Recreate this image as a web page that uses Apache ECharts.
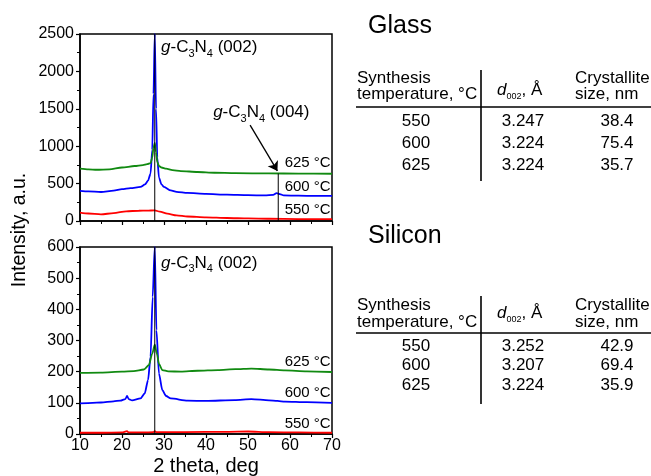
<!DOCTYPE html>
<html><head><meta charset="utf-8">
<script src="https://cdn.jsdelivr.net/npm/echarts@6/dist/echarts.min.js"></script>
<style>html,body{margin:0;padding:0;background:#fff}#c{width:651px;height:476px}</style>
</head><body><div id="c"></div>
<script>
// ---- data ----
var xTicks = [10, 20, 30, 40, 50, 60, 70];
var tempLabels = ['625 °C', '600 °C', '550 °C'];
var glass625 = [[10,700],[12,690],[14,685],[17,690],[20,715],[23,735],[25,748],[26,760],[26.8,775],[27.2,850],[27.5,980],[27.8,1045],[28.1,920],[28.4,790],[28.8,735],[29.4,715],[30.5,700],[32,680],[34,668],[38,655],[42,645],[47,640],[55,636],[62,634],[70,632]];
var glass600 = [[10,402],[12,395],[15,388],[18,405],[20,425],[22,440],[24.4,455],[25.5,490],[26.2,540],[26.8,634],[27.2,950],[27.5,1700],[27.8,2500],[28.1,1500],[28.4,850],[28.8,580],[29.4,490],[30,455],[31.6,410],[33,390],[35.6,375],[40,362],[45,352],[50,345],[54,342],[56,350],[56.8,372],[57.6,360],[58.5,342],[62,338],[66,336],[70,335]];
var glass550 = [[10,112],[12,100],[15,89],[18,105],[21,130],[24,137],[26,138],[27.8,143],[29,125],[30.8,98],[33,75],[35.6,60],[40,48],[45,40],[50,34],[55,30],[62,26],[70,24]];
var si625 = [[10,196],[15,197],[20,200],[22.8,202],[25.2,207],[26.4,221],[27.2,258],[27.8,287],[28.3,258],[28.8,225],[29.6,205],[31,201],[34,200],[38,203],[42.8,205],[47,208],[50.8,210],[55,207],[58.8,204],[64,201],[70,199]];
var si600 = [[10,98],[13,100],[15,101],[18,105],[19.6,107],[20.8,112],[21.2,122],[21.6,112],[22.4,108],[24.4,114],[25.4,130],[26.2,173],[26.8,248],[27.3,440],[27.8,600],[28.2,333],[28.8,194],[29.6,141],[30.5,122],[31.6,114],[35.6,107],[40,106],[46.8,109],[50.8,112],[55,108],[57,106],[58.8,104],[64,102],[70,100]];
var si550 = [[10,4],[15,4],[20,5],[21.2,9],[21.6,5],[25,5],[27.5,6],[27.8,9],[28.2,6],[35,6],[45,7],[50,8],[55,6],[62,5],[70,4]];
var peak002 = 27.8, peak004 = 57.2;
var glassTable = [['550','3.247','38.4'],['600','3.224','75.4'],['625','3.224','35.7']];
var siliconTable = [['550','3.252','42.9'],['600','3.207','69.4'],['625','3.224','35.9']];

var FONT = 'Liberation Sans, Arial, sans-serif';
var GREEN = '#118a11', BLUE = '#0000ff', RED = '#ff0000';

function xAx(idx, showLabels) {
  return {
    type: 'value', gridIndex: idx, min: 10, max: 70, interval: 10,
    axisLine: {show: true, lineStyle: {color: '#000', width: 1.5}},
    axisTick: {show: true, inside: false, length: 4, lineStyle: {color: '#000', width: 1.2}},
    minorTick: {show: true, splitNumber: 2, length: 3, lineStyle: {color: '#000', width: 1}},
    splitLine: {show: false},
    axisLabel: {show: showLabels, color: '#000', fontSize: 16, fontFamily: FONT, margin: 4,
      formatter: function (v) { return String(v); }},
    name: showLabels ? '2 theta, deg' : '', nameLocation: 'middle', nameGap: 22,
    nameTextStyle: {color: '#000', fontSize: 20, fontFamily: FONT}
  };
}
function yAx(idx, max, interval) {
  return {
    type: 'value', gridIndex: idx, min: 0, max: max, interval: interval,
    axisLine: {show: true, lineStyle: {color: '#000', width: 1.5}},
    axisTick: {show: true, length: 4, lineStyle: {color: '#000', width: 1.2}},
    minorTick: {show: true, splitNumber: 2, length: 3, lineStyle: {color: '#000', width: 1}},
    splitLine: {show: false},
    axisLabel: {color: '#000', fontSize: 16, fontFamily: FONT, margin: 6,
      formatter: function (v) { return String(v); }}
  };
}
function curve(data, color, gi) {
  return {type: 'line', xAxisIndex: gi, yAxisIndex: gi, data: data, showSymbol: false, symbol: 'none',
    smooth: 0.25, smoothMonotone: 'x', lineStyle: {color: color, width: 1.8}, z: 3, silent: true};
}
function vline(x, y1, gi) {
  return {type: 'line', xAxisIndex: gi, yAxisIndex: gi, data: [[x, 0], [x, y1]], symbol: 'none',
    lineStyle: {color: '#000', width: 1}, z: 4, silent: true};
}
var richSub = {
  n: {fontSize: 17, fontFamily: FONT, color: '#000', lineHeight: 24, textBorderWidth: 0, opacity: 1},
  i: {fontStyle: 'italic', fontSize: 17, fontFamily: FONT, color: '#000', lineHeight: 24, textBorderWidth: 0, opacity: 1},
  s: {fontSize: 11, fontFamily: FONT, color: '#000', lineHeight: 12, verticalAlign: 'bottom', textBorderWidth: 0, opacity: 1}
};
function textMark(gi, pts, formatter, align) {
  return {type: 'scatter', xAxisIndex: gi, yAxisIndex: gi, symbolSize: 0, silent: true, z: 5,
    itemStyle: {opacity: 1},
    data: pts.map(function (p) { return {value: p, name: formatter}; }),
    label: {show: true, position: 'inside', align: align || 'center', verticalAlign: 'middle', opacity: 1,
      color: '#000', textBorderWidth: 0, fontSize: 17, fontFamily: FONT, lineHeight: 24,
      formatter: function (p) { return p.name; }, rich: richSub}};
}
function tempLabelSeries(gi, ys) {
  return {type: 'scatter', xAxisIndex: gi, yAxisIndex: gi, symbolSize: 0, silent: true, z: 5,
    itemStyle: {opacity: 1},
    data: ys.map(function (y, k) { return {value: [64.2, y], name: tempLabels[k]}; }),
    label: {show: true, position: 'inside', color: '#000', opacity: 1, textBorderWidth: 0, fontSize: 15, fontFamily: FONT,
      formatter: function (p) { return p.name; }}};
}

// ---- table graphics ----
function tableGraphics(title, rows, top) {
  var els = [];
  var ts = {fill: '#000', font: '17px ' + FONT, textVerticalAlign: 'middle'};
  function t(x, y, text, align, extra) {
    var st = Object.assign({}, ts, {x: x, y: y, text: text, textAlign: align || 'left'}, extra || {});
    els.push({type: 'text', style: st, silent: true});
  }
  t(368, top.title, title, 'left', {font: '25px ' + FONT});
  t(357, top.h1, 'Synthesis');
  t(357, top.h2, 'temperature, °C');
  els.push({type: 'text', silent: true, style: {x: 497, y: top.hd, text: '{i|d}{s|002}, Å', fill: '#000',
    font: '17px ' + FONT, textVerticalAlign: 'middle', rich: {
      i: {fontStyle: 'italic', fontSize: 17, fontFamily: FONT, lineHeight: 22, fill: '#000'},
      s: {fontSize: 9, fontFamily: FONT, lineHeight: 10, verticalAlign: 'bottom', fill: '#000'}}}});
  t(575, top.h1, 'Crystallite');
  t(575, top.h2, 'size, nm');
  els.push({type: 'line', silent: true, shape: {x1: 356, y1: top.hl, x2: 651, y2: top.hl}, style: {stroke: '#000', lineWidth: 1.6}});
  els.push({type: 'line', silent: true, shape: {x1: 481, y1: top.v1, x2: 481, y2: top.v2}, style: {stroke: '#000', lineWidth: 1.6}});
  var cols = [416, 523, 617];
  rows.forEach(function (r, i) {
    r.forEach(function (v, j) { t(cols[j], top.rows[i], v, 'center'); });
  });
  return els;
}
var graphics = [].concat(
  tableGraphics('Glass', glassTable, {title: 26, h1: 78, h2: 94, hd: 90, hl: 107, v1: 70, v2: 181, rows: [121, 143.5, 165]}),
  tableGraphics('Silicon', siliconTable, {title: 236, h1: 305, h2: 322, hd: 313, hl: 333, v1: 296, v2: 404, rows: [346, 365, 385]}),
  [{type: 'text', silent: true, x: 20, y: 230, rotation: Math.PI / 2,
    style: {text: 'Intensity, a.u.', fill: '#000', font: '19.5px ' + FONT, textAlign: 'center', textVerticalAlign: 'middle'}}]
);

var chart = echarts.init(document.getElementById('c'), null, {renderer: 'canvas'});
chart.setOption({
  animation: false,
  backgroundColor: '#fff',
  grid: [
    {left: 80, top: 34, width: 252, height: 187, show: true, borderColor: '#000', borderWidth: 1.5, backgroundColor: 'transparent', containLabel: false, outerBoundsMode: 'none'},
    {left: 80, top: 247, width: 252, height: 187, show: true, borderColor: '#000', borderWidth: 1.5, backgroundColor: 'transparent', containLabel: false, outerBoundsMode: 'none'}
  ],
  xAxis: [xAx(0, false), xAx(1, true)],
  yAxis: [yAx(0, 2500, 500), yAx(1, 600, 100)],
  graphic: graphics,
  series: [
    curve(glass550, RED, 0), curve(glass600, BLUE, 0), curve(glass625, GREEN, 0),
    curve(si550, RED, 1), curve(si600, BLUE, 1), curve(si625, GREEN, 1),
    vline(peak002, 2500, 0), vline(peak004, 635, 0), vline(peak002, 600, 1),
    {type: 'lines', coordinateSystem: 'cartesian2d', xAxisIndex: 0, yAxisIndex: 0, silent: true, z: 5,
      symbol: ['none', 'arrow'], symbolSize: [0, 9],
      lineStyle: {color: '#000', width: 1.3, opacity: 1},
      data: [{coords: [[50.5, 1281], [57.0, 670]]}]},
    textMark(0, [[29.3, 2326]], '{i|g}{n|-C}{s|3}{n|N}{s|4}{n| (002)}', 'left'),
    textMark(0, [[41.7, 1455]], '{i|g}{n|-C}{s|3}{n|N}{s|4}{n| (004)}', 'left'),
    textMark(1, [[29.3, 549]], '{i|g}{n|-C}{s|3}{n|N}{s|4}{n| (002)}', 'left'),
    tempLabelSeries(0, [775, 455, 147]),
    tempLabelSeries(1, [231, 131, 32])
  ]
});
</script></body></html>
